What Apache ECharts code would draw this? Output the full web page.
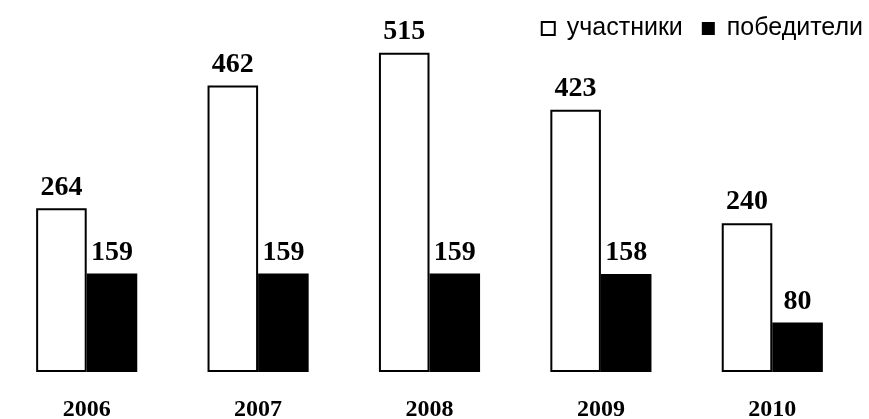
<!DOCTYPE html>
<html><head><meta charset="utf-8">
<script src="https://cdn.jsdelivr.net/npm/echarts@6/dist/echarts.min.js"></script>
<style>html,body{margin:0;padding:0;background:#fff}#c{width:869px;height:419px}</style>
</head><body><div id="c"></div>
<script>
const categories = ['2006', '2007', '2008', '2009', '2010'];
const participants = [264, 462, 515, 423, 240];
const winners = [159, 159, 159, 158, 80];
const seriesNames = ['участники', 'победители'];

const chart = echarts.init(document.getElementById('c'), null, {renderer: 'canvas'});
const labelStyle = {
  show: true, position: 'top', distance: 7,
  fontFamily: 'Liberation Serif', fontWeight: 'bold', fontSize: 28, color: '#000'
};
chart.setOption({
  animation: false,
  backgroundColor: '#fff',
  grid: {left: 1, right: 11, top: 0, bottom: 47, containLabel: false, outerBoundsMode: 'none'},
  legend: {
    right: 1, top: 11, icon: 'rect', itemWidth: 13, itemHeight: 13, itemGap: 19,
    textStyle: {fontFamily: 'Liberation Sans', fontSize: 25, color: '#000', padding: [0,0,0,7]},
    data: [
      {name: seriesNames[0], itemStyle: {color: '#fff', borderColor: '#000', borderWidth: 2}},
      {name: seriesNames[1], itemStyle: {color: '#000'}}
    ]
  },
  xAxis: {
    type: 'category', data: categories,
    axisLine: {show: false}, axisTick: {show: false},
    axisLabel: {margin: 26, fontFamily: 'Liberation Serif', fontWeight: 'bold', fontSize: 24, color: '#000'}
  },
  yAxis: {
    type: 'value', min: 0, max: 600,
    show: false, splitLine: {show: false}
  },
  series: [
    {
      name: seriesNames[0], type: 'bar', data: participants,
      barGap: '0%', barCategoryGap: '41%',
      itemStyle: {color: '#fff', borderColor: '#000', borderWidth: 2},
      label: labelStyle
    },
    {
      name: seriesNames[1], type: 'bar', data: winners,
      itemStyle: {color: '#000'},
      label: labelStyle
    }
  ]
});
</script></body></html>
